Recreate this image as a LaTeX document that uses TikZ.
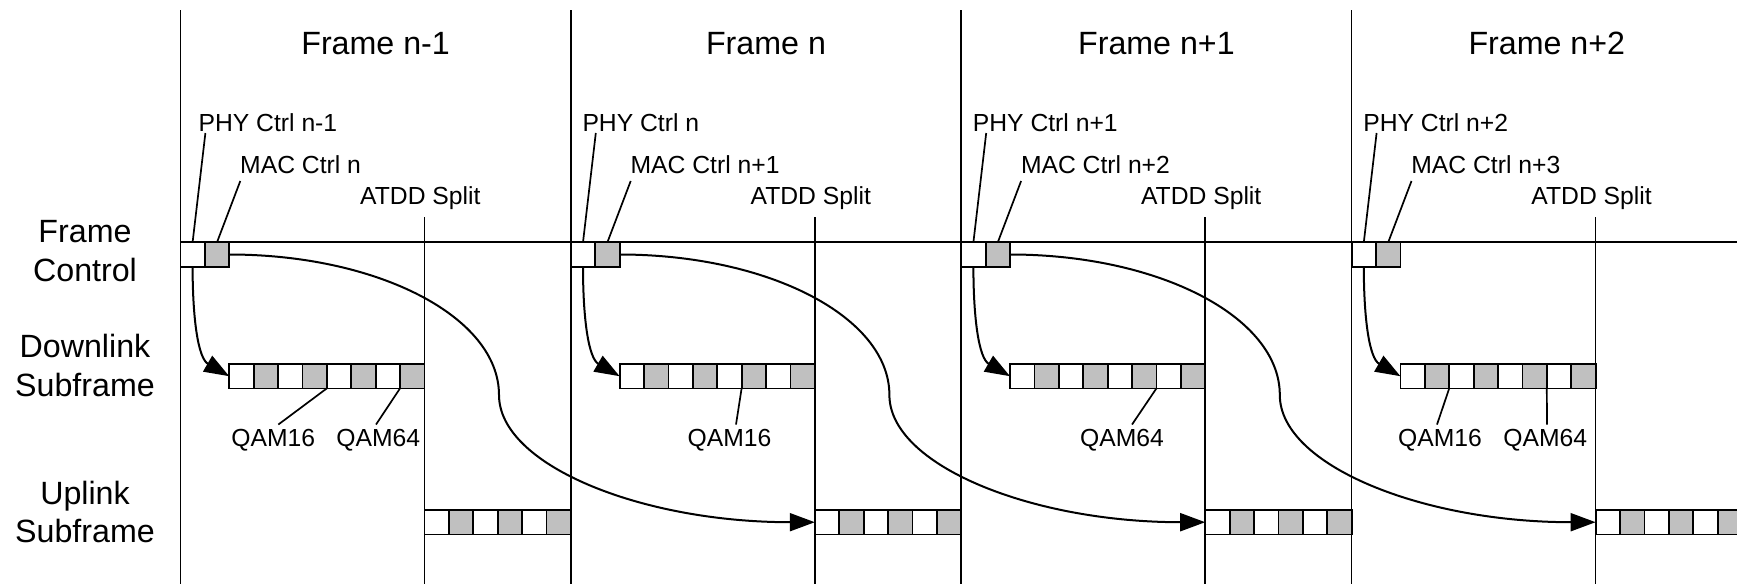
\documentclass[tikz,border=0pt]{standalone}
\usepackage{fontspec}
\setmainfont{Liberation Sans}
\usetikzlibrary{arrows.meta,calc}
\definecolor{cellgray}{RGB}{192,192,192}
\tikzset{
  cell/.style={draw, line width=1.8pt, minimum width=24.4pt, minimum height=24.4pt, inner sep=0pt, outer sep=0pt, anchor=north west},
  wcell/.style={cell, fill=white},
  gcell/.style={cell, fill=cellgray},
  big/.style={font=\fontsize{32.2}{38.4}\selectfont, inner sep=0pt},
  small/.style={font=\fontsize{24.7}{29}\selectfont, inner sep=0pt},
  qlabel/.style={font=\fontsize{24.7}{29}\selectfont, inner sep=4pt, anchor=base},
  rule/.style={line width=1.7pt},
  leader/.style={line width=1.7pt},
  flow/.style={line width=2pt, -{Triangle[length=25pt,width=18pt]}},
}
\begin{document}
\begin{tikzpicture}[x=1pt, y=-1pt]
\useasboundingbox (0,0) rectangle (1737,584);
\clip (0,0) rectangle (1737,584);
% frame grid
\draw[rule] (180.4,242.3) -- (1737,242.3);
\foreach \k in {0,...,3} {
  \pgfmathsetmacro\X{180.4+390.4*\k}
  \draw[rule] (\X,10) -- (\X,584);
  \draw[rule] (\X+244,217.3) -- (\X+244,584);
}
% cells and labels per frame
\foreach \k/\t/\p/\m/\po in {0/n-1/n-1/n/18, 1/n/n/n+1/11.5, 2/n+1/n+1/n+2/11.5, 3/n+2/n+2/n+3/11.5} {
  \pgfmathsetmacro\X{180.4+390.4*\k}
  \node[wcell] (phy\k) at (\X,242.3) {};
  \node[gcell] (mac\k) at (\X+24.4,242.3) {};
  \foreach \i/\s in {0/wcell,1/gcell,2/wcell,3/gcell,4/wcell,5/gcell,6/wcell,7/gcell}
    \node[\s] (dl\k-\i) at (\X+48.8+24.4*\i,364) {};
  \foreach \i/\s in {0/wcell,1/gcell,2/wcell,3/gcell,4/wcell,5/gcell}
    \node[\s] (ul\k-\i) at (\X+244+24.4*\i,510) {};
  \node[big, anchor=base] (title\k) at (\X+195.2,54) {Frame \t};
  \node[small, anchor=base west] (phyt\k) at (\X+\po,131.7) {PHY Ctrl \p};
  \node[small, anchor=base west] (mact\k) at (\X+59.6,173.3) {MAC Ctrl \m};
  \node[small, anchor=base] (atdd\k) at (\X+240,204) {ATDD Split};
  \draw[leader] (phy\k.north) -- ($(phyt\k.base west)+(25-\po,1.3)$);
  \draw[leader] (mac\k.north) -- ($(mact\k.base west)+(0.3,7.7)$);
  \draw[flow] (phy\k.south) .. controls +(0,53) and +(-31,-18) .. (dl\k-0.west);
}
% long curves from MAC Ctrl to the next frame's uplink
\foreach \k in {0,1,2} {
  \pgfmathsetmacro\X{180.4+390.4*\k}
  \pgfmathtruncatemacro\kk{\k+1}
  \coordinate (mid\k) at (\X+318.6,395);
  \draw[flow] (mac\k.east) .. controls +(149,0) and +(0,-78) .. (mid\k)
              .. controls +(0,70) and +(-174,0) .. (ul\kk-0.west);
}
% row labels
\node[big, align=center] (fc) at (85,251.2) {Frame\\Control};
\node[big, align=center] (dls) at (85,365.6) {Downlink\\Subframe};
\node[big, align=center] (uls) at (85,512) {Uplink\\Subframe};
% modulation labels
\node[qlabel] (qa16) at (273.3,446) {QAM16};
\node[qlabel] (qa64) at (378.3,446) {QAM64};
\node[qlabel] (qb16) at (729.5,446) {QAM16};
\node[qlabel] (qc64) at (1122,446) {QAM64};
\node[qlabel] (qd16) at (1440,446) {QAM16};
\node[qlabel] (qd64) at (1545.3,446) {QAM64};
\draw[leader] (dl0-3.south east) -- ($(qa16.north)+(5,0)$);
\draw[leader] (dl0-6.south east) -- ($(qa64.north)+(-2.3,0)$);
\draw[leader] (dl1-4.south east) -- ($(qb16.north)+(6.5,0)$);
\draw[leader] (dl2-5.south east) -- ($(qc64.north)+(10,0)$);
\draw[leader] (dl3-1.south east) -- ($(qd16.north)+(-3,0)$);
\draw[leader] (dl3-5.south east) -- ($(qd64.north)+(1.7,0)$);
\end{tikzpicture}
\end{document}
